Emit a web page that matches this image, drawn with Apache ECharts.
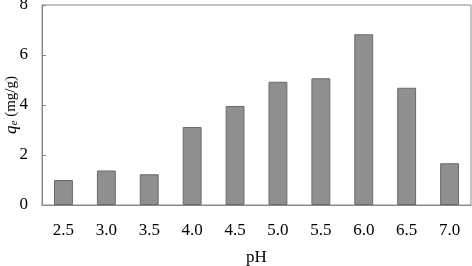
<!DOCTYPE html>
<html>
<head>
<meta charset="utf-8">
<script src="https://cdn.jsdelivr.net/npm/echarts@6/dist/echarts.min.js"></script>
<style>
    html, body { margin: 0; padding: 0; background: #fff; }
    #chart { width: 472px; height: 266px; }
</style>
</head>
<body>
<div id="chart"></div>
<script>
// pH values and adsorption capacity
var phList = ['2.5', '3.0', '3.5', '4.0', '4.5', '5.0', '5.5', '6.0', '6.5', '7.0'];
var qeList = [1.0, 1.38, 1.23, 3.12, 3.96, 4.93, 5.07, 6.83, 4.69, 1.67];
var yTicks = [0, 2, 4, 6, 8];

var font = 'Liberation Serif';
var chart = echarts.init(document.getElementById('chart'));

var option = {
    animation: false,
    grid: {
        left: 42,
        right: 1,
        top: 5,
        bottom: 61,
        outerBoundsMode: 'none',
        containLabel: false,
        show: true,
        borderColor: '#8a8a8a',
        borderWidth: 1
    },
    xAxis: {
        type: 'category',
        data: phList,
        name: 'pH',
        nameLocation: 'middle',
        nameGap: 44,
        nameMoveOverlap: false,
        nameTextStyle: {fontFamily: font, fontSize: 17, color: '#000'},
        axisLine: {lineStyle: {color: '#8a8a8a'}},
        axisTick: {inside: true, length: 4, lineStyle: {color: '#8a8a8a'}},
        axisLabel: {fontFamily: font, fontSize: 17, color: '#000', margin: 17}
    },
    yAxis: {
        type: 'value',
        min: yTicks[0],
        max: yTicks[yTicks.length - 1],
        interval: 2,
        name: '{q|q}{e|e} (mg/g)',
        nameLocation: 'middle',
        nameRotate: 90,
        nameGap: 22,
        nameMoveOverlap: false,
        nameTextStyle: {
            fontFamily: font, fontSize: 15, color: '#000',
            rich: {
                q: {fontFamily: font, fontSize: 17, fontStyle: 'italic', color: '#000'},
                e: {fontFamily: font, fontSize: 11, fontStyle: 'italic', color: '#000', verticalAlign: 'bottom', padding: [6, 0, 0, 0]}
            }
        },
        splitLine: {show: false},
        axisLine: {show: true, lineStyle: {color: '#8a8a8a'}},
        axisTick: {show: true, inside: true, length: 4, lineStyle: {color: '#8a8a8a'}},
        axisLabel: {fontFamily: font, fontSize: 17, color: '#000', margin: 14}
    },
    series: [
        {
            type: 'bar',
            data: qeList,
            barWidth: '44%',
            itemStyle: {color: '#8f8f8f', borderColor: '#6a6a6a', borderWidth: 1}
        }
    ]
};
chart.setOption(option);
</script>
</body>
</html>
